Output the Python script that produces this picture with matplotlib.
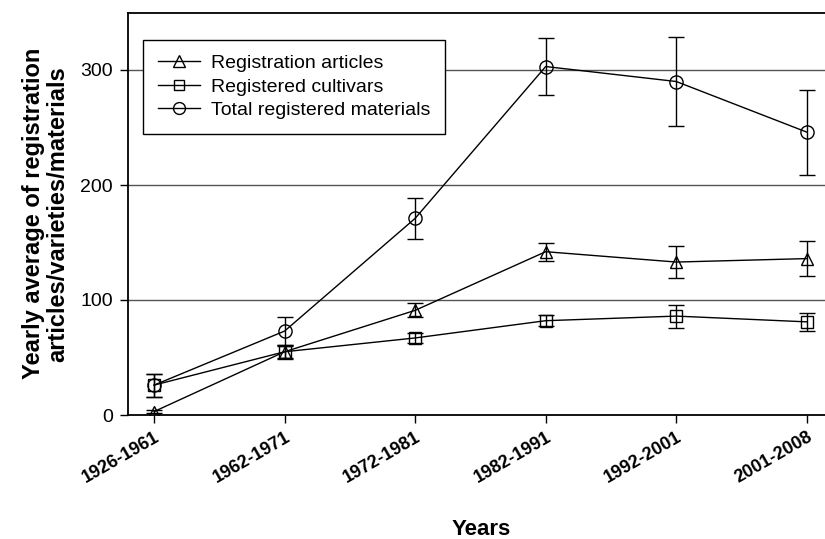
import matplotlib
matplotlib.use("Agg")
import matplotlib.pyplot as plt
from matplotlib.lines import Line2D
from matplotlib import font_manager

periods = ["1926-1961", "1962-1971", "1972-1981", "1982-1991", "1992-2001", "2001-2008"]

articles = [3, 55, 91, 142, 133, 136]
articles_err = [1, 5, 6, 8, 14, 15]

cultivars = [26, 55, 67, 82, 86, 81]
cultivars_err = [10, 6, 4, 5, 10, 8]

total = [26, 73, 171, 303, 290, 246]
total_err = [10, 12, 18, 25, 39, 37]

yticks = [0, 100, 200, 300]
labels = ["Registration articles", "Registered cultivars", "Total registered materials"]

names = {f.name for f in font_manager.fontManager.ttflist}
base = "Liberation Sans" if "Liberation Sans" in names else "DejaVu Sans"
plt.rcParams["font.family"] = [base, "DejaVu Sans"]

fig = plt.figure(figsize=(8.25, 5.39), dpi=100)
ax = fig.add_axes([128 / 825, 1 - 415 / 539, 1 - 128 / 825, (415 - 12.5) / 539])

x = list(range(len(periods)))
for yv in yticks[1:]:
    ax.axhline(yv, color="#555555", lw=1.0, zorder=1)

common = dict(color="black", lw=1.0, markerfacecolor="none", markeredgecolor="black",
              markeredgewidth=1.0, capsize=5.5, elinewidth=1.0, capthick=1.0, zorder=3)
series = [(articles, articles_err, "^", 9), (cultivars, cultivars_err, "s", 8), (total, total_err, "o", 9.5)]
handles = []
for (vals, err, mk, ms), lab in zip(series, labels):
    ax.errorbar(x, vals, yerr=err, marker=mk, ms=ms, **common)
    handles.append(Line2D([], [], color="black", lw=1.0, marker=mk, ms=ms * 0.9,
                          markerfacecolor="none", markeredgecolor="black", markeredgewidth=1.0))

ax.set_xlim(-0.2, 5.14)
ax.set_ylim(0, 350)
ax.set_yticks(yticks)
ax.set_xticks(x)
ax.set_xticklabels(periods, rotation=30, ha="right", rotation_mode="anchor",
                   fontsize=13, fontweight="bold")
ax.tick_params(axis="y", labelsize=14, length=6, width=1.0, direction="out", pad=5)
ax.tick_params(axis="x", length=6, width=1.0, direction="out", pad=4)

for s in ["left", "top", "bottom"]:
    ax.spines[s].set_linewidth(1.3)
    ax.spines[s].set_color("black")
ax.spines["right"].set_visible(False)

ax.set_ylabel("Yearly average of registration\narticles/varieties/materials",
              fontsize=17, fontweight="bold", labelpad=8, linespacing=1.05)
fig.text(481 / 825, 1 - 535 / 539, "Years", fontsize=16, fontweight="bold",
         ha="center", va="baseline")

leg = ax.legend(handles, labels, loc="upper left", bbox_to_anchor=(0.0215, 0.932), borderaxespad=0,
                fontsize=14, frameon=True, fancybox=False, edgecolor="black", framealpha=1,
                handlelength=2.2, borderpad=0.75, labelspacing=0.3, handletextpad=0.55)
leg.get_frame().set_linewidth(1.0)

fig.savefig("out.png", dpi=100)
